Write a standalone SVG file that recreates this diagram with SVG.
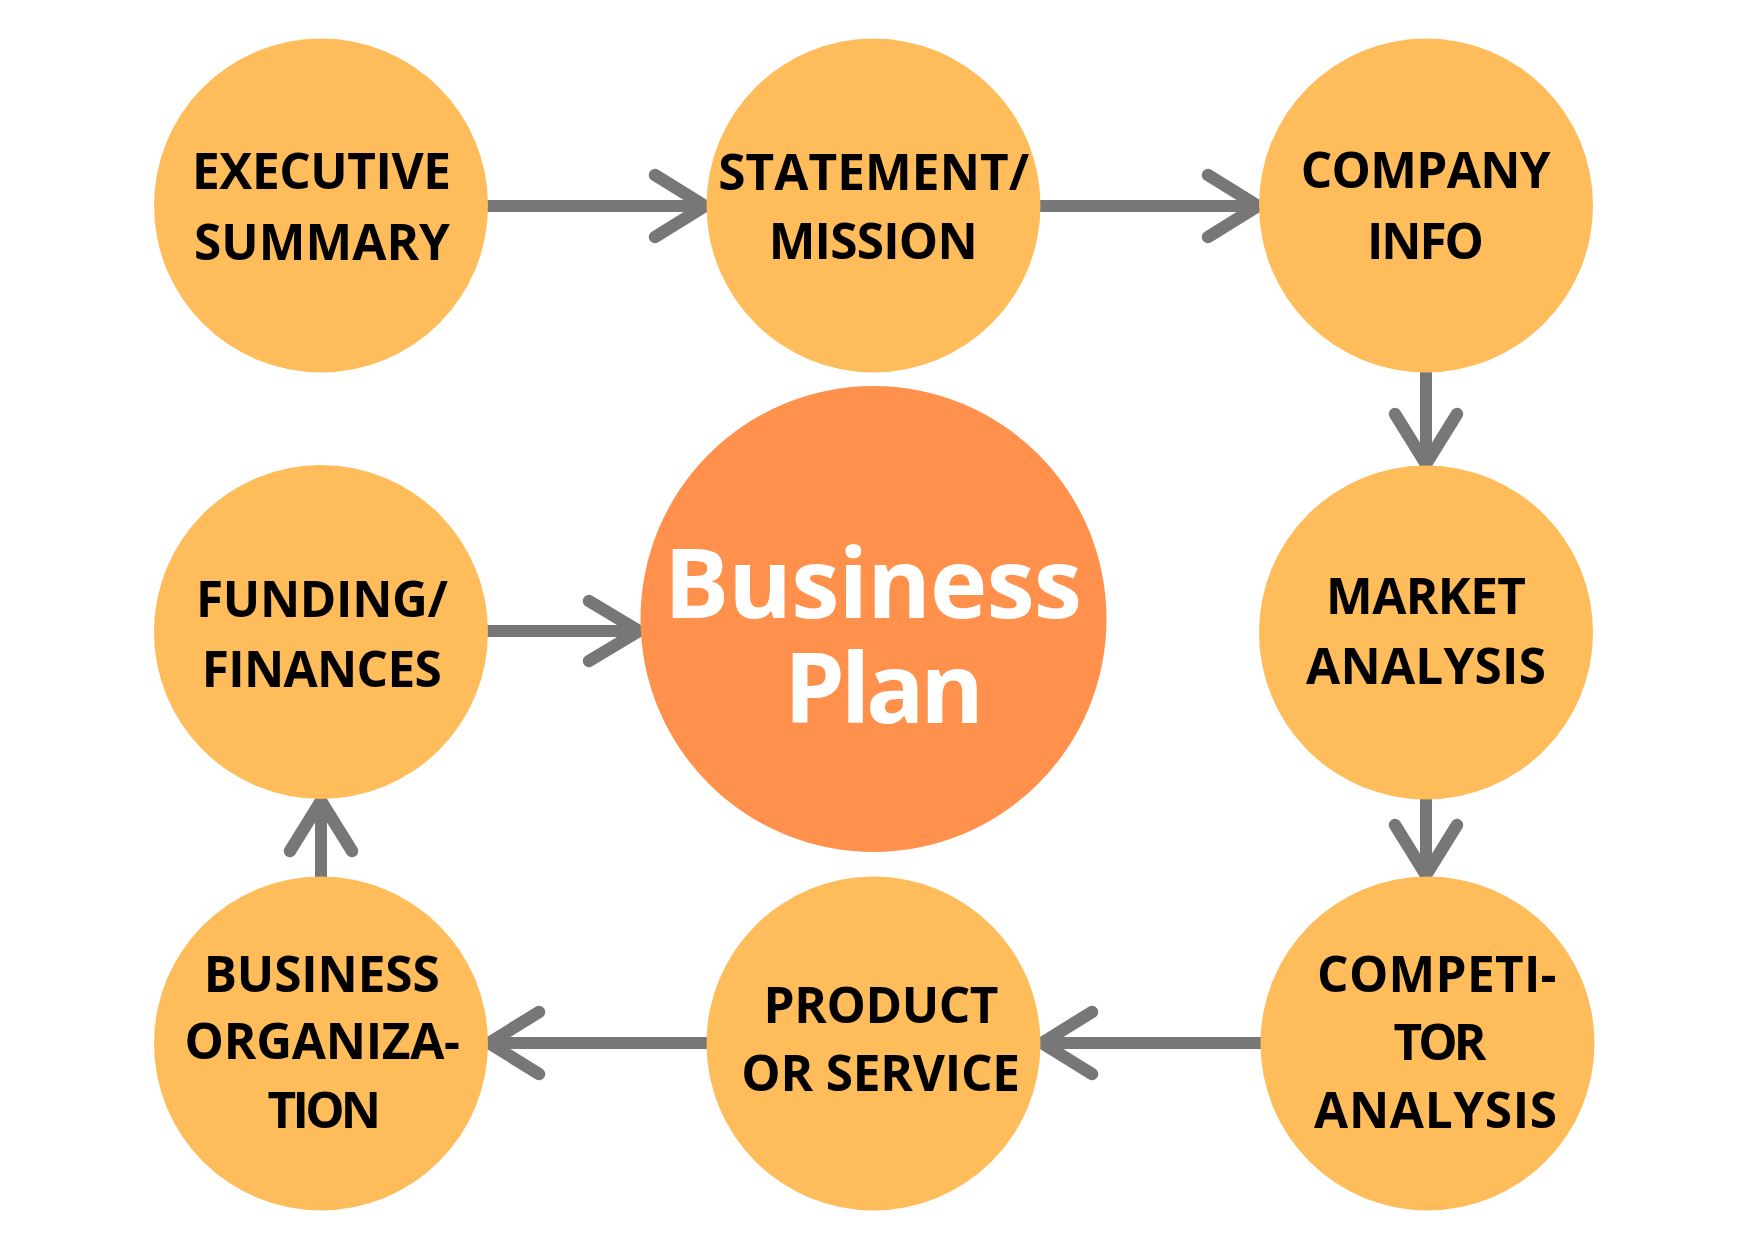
<svg xmlns="http://www.w3.org/2000/svg" width="1747" height="1240" viewBox="0 0 1747 1240">
<style>
.node{fill:#FEBC5A}
.center{fill:#FF914D}
.lbl{font-family:"Open Sans","Liberation Sans",sans-serif;font-weight:700;font-size:49.5px;fill:#000;text-anchor:middle}
.big{font-family:"Open Sans","Liberation Sans",sans-serif;font-weight:700;font-size:97px;fill:#fff;text-anchor:middle}
.ln{stroke:#777;stroke-width:12;fill:none}
.hd{stroke:#777;stroke-width:12.5;fill:none;stroke-linecap:round;stroke-linejoin:round}
</style>
<rect width="1747" height="1240" fill="#fff"/>
<g id="connectors">
<line class="ln" x1="486" y1="206" x2="702" y2="206"/>
<polyline class="hd" points="655,175 705,206 655,237"/>
<line class="ln" x1="1038" y1="206" x2="1255" y2="206"/>
<polyline class="hd" points="1208,175 1258,206 1208,237"/>
<line class="ln" x1="1426" y1="370" x2="1426" y2="461"/>
<polyline class="hd" points="1395,414 1426,464 1457,414"/>
<line class="ln" x1="1426" y1="797" x2="1426" y2="872"/>
<polyline class="hd" points="1395,825 1426,875 1457,825"/>
<line class="ln" x1="1262" y1="1043" x2="1045" y2="1043"/>
<polyline class="hd" points="1092,1012 1042,1043 1092,1074"/>
<line class="ln" x1="708" y1="1043" x2="492" y2="1043"/>
<polyline class="hd" points="539,1012 489,1043 539,1074"/>
<line class="ln" x1="321" y1="878" x2="321" y2="804"/>
<polyline class="hd" points="290,851 321,801 352,851"/>
<line class="ln" x1="486" y1="631" x2="636" y2="631"/>
<polyline class="hd" points="589,601 639,631 589,661"/>
</g>
<g id="executive-summary">
<circle class="node" cx="321" cy="205.5" r="167"/>
<text class="lbl" x="321.5" y="188.5" textLength="259" lengthAdjust="spacing">EXECUTIVE</text>
<text class="lbl" x="322" y="259.5" textLength="256" lengthAdjust="spacing">SUMMARY</text>
</g>
<g id="statement-mission">
<circle class="node" cx="873.5" cy="205.5" r="167"/>
<text class="lbl" x="873.7" y="190" textLength="311" lengthAdjust="spacing">STATEMENT/</text>
<text class="lbl" x="873.2" y="259" textLength="209" lengthAdjust="spacing">MISSION</text>
</g>
<g id="company-info">
<circle class="node" cx="1426" cy="205.5" r="167"/>
<text class="lbl" x="1425.7" y="187.5" textLength="250" lengthAdjust="spacing">COMPANY</text>
<text class="lbl" x="1425.5" y="258.5" textLength="117" lengthAdjust="spacing">INFO</text>
</g>
<g id="market-analysis">
<circle class="node" cx="1426" cy="632.5" r="167"/>
<text class="lbl" x="1426" y="614" textLength="200" lengthAdjust="spacing">MARKET</text>
<text class="lbl" x="1426" y="683.5" textLength="240" lengthAdjust="spacing">ANALYSIS</text>
</g>
<g id="competitor-analysis">
<circle class="node" cx="1427.5" cy="1043.5" r="167"/>
<text class="lbl" x="1436.8" y="991.7" textLength="239.5" lengthAdjust="spacing">COMPETI-</text>
<text class="lbl" x="1440" y="1060" textLength="93" lengthAdjust="spacing">TOR</text>
<text class="lbl" x="1435.6" y="1128.3" textLength="243" lengthAdjust="spacing">ANALYSIS</text>
</g>
<g id="product-service">
<circle class="node" cx="873.5" cy="1043.5" r="167"/>
<text class="lbl" x="881" y="1023.3" textLength="235" lengthAdjust="spacing">PRODUCT</text>
<text class="lbl" x="880.7" y="1091" textLength="278.7" lengthAdjust="spacing">OR SERVICE</text>
</g>
<g id="business-organization">
<circle class="node" cx="321" cy="1043.5" r="167"/>
<text class="lbl" x="321.7" y="991.7" textLength="236" lengthAdjust="spacing">BUSINESS</text>
<text class="lbl" x="322.3" y="1059.3" textLength="275.5" lengthAdjust="spacing">ORGANIZA-</text>
<text class="lbl" x="324.3" y="1128.3" textLength="113.5" lengthAdjust="spacing">TION</text>
</g>
<g id="funding-finances">
<circle class="node" cx="321" cy="632" r="167"/>
<text class="lbl" x="322" y="617.3" textLength="252" lengthAdjust="spacing">FUNDING/</text>
<text class="lbl" x="321.7" y="686.7" textLength="240" lengthAdjust="spacing">FINANCES</text>
</g>
<g id="business-plan">
<circle class="center" cx="873.5" cy="619" r="233"/>
<text class="big" x="873" y="618" textLength="418" lengthAdjust="spacing">Business</text>
<text class="big" x="884" y="722.7" textLength="200" lengthAdjust="spacing">Plan</text>
</g>
</svg>
